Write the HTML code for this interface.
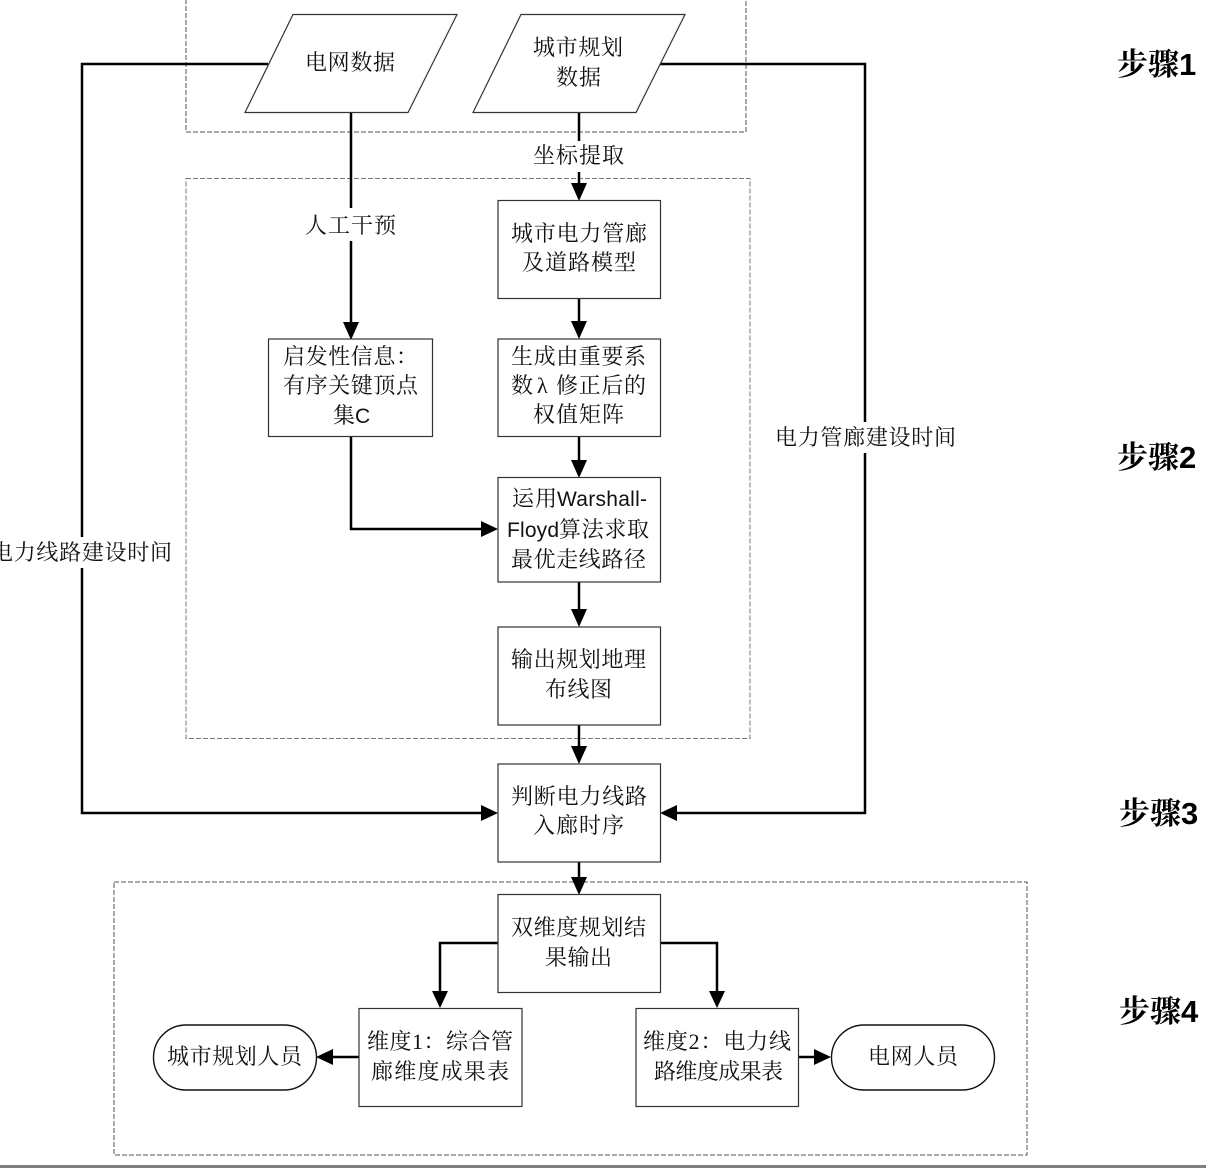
<!DOCTYPE html>
<html lang="zh">
<head>
<meta charset="utf-8">
<style>
html,body{margin:0;padding:0;background:#fff;width:1206px;height:1168px;overflow:hidden}
svg{display:block}
text{font-family:"Liberation Serif","Noto Serif CJK SC",serif;font-size:22px;fill:#111}
.l{font-family:"Liberation Sans","Noto Serif CJK SC",sans-serif;font-size:21px}
.s{font-family:"Liberation Sans","Noto Serif CJK SC",serif;font-size:31px;font-weight:700;fill:#000}
.b{fill:#fff;stroke:#333;stroke-width:1.2}
.d{fill:none;stroke:#555;stroke-width:1;stroke-dasharray:5 2}
.c{fill:none;stroke:#000;stroke-width:2.5}
</style>
</head>
<body>
<svg width="1206" height="1168" viewBox="0 0 1206 1168" xmlns="http://www.w3.org/2000/svg">
<rect x="186" y="-20" width="560" height="152" class="d"/>
<rect x="186" y="178.500" width="564" height="560" class="d" style="stroke:#777"/>
<rect x="114" y="882" width="913" height="273" class="d"/>
<rect x="0" y="1165" width="1206" height="3" fill="#808080"/>

<path class="c" d="M268 64H82V813H482"/>
<path class="c" d="M660 64H865V813H676"/>
<path class="c" d="M351 112V324"/>
<path class="c" d="M579 112V184"/>
<path class="c" d="M579 298V322"/>
<path class="c" d="M579 436V461"/>
<path class="c" d="M579 582V610"/>
<path class="c" d="M579 725V748"/>
<path class="c" d="M579 862V878"/>
<path class="c" d="M351 436V529H482"/>
<path class="c" d="M498 943H440V992"/>
<path class="c" d="M660 943H717V992"/>
<path class="c" d="M359 1057H332"/>
<path class="c" d="M798 1057H815"/>

<g fill="#000">
<polygon points="571,183 587,183 579,201"/>
<polygon points="343,322 359,322 351,340"/>
<polygon points="571,321 587,321 579,339"/>
<polygon points="571,460 587,460 579,478"/>
<polygon points="571,609 587,609 579,627"/>
<polygon points="571,746 587,746 579,764"/>
<polygon points="571,877 587,877 579,895"/>
<polygon points="432,991 448,991 440,1008"/>
<polygon points="709,991 725,991 717,1008"/>
<polygon points="481,521 481,537 498,529"/>
<polygon points="481,805 481,821 498,813"/>
<polygon points="677,805 677,821 660,813"/>
<polygon points="333,1049 333,1065 316,1057"/>
<polygon points="814,1049 814,1065 831,1057"/>
</g>

<polygon class="b" points="293,14.500 457,14.500 408,112.500 245,112.500"/>
<polygon class="b" points="521,14.500 685,14.500 636,112.500 473,112.500"/>
<rect class="b" x="498" y="200.500" width="162.500" height="98"/>
<rect class="b" x="268.500" y="339" width="164" height="97.500"/>
<rect class="b" x="498" y="339" width="162.500" height="97.500"/>
<rect class="b" x="498" y="477.500" width="162.500" height="104.500"/>
<rect class="b" x="498" y="627" width="162.500" height="98"/>
<rect class="b" x="498" y="764" width="162.500" height="98"/>
<rect class="b" x="498" y="894.500" width="162.500" height="98"/>
<rect class="b" x="359" y="1008.500" width="163" height="98"/>
<rect class="b" x="636" y="1008.500" width="162.500" height="98"/>
<rect x="153.500" y="1025" width="163" height="65" rx="32.500" fill="#fff" stroke="#111" stroke-width="1.4"/>
<rect x="831.500" y="1025" width="163" height="65" rx="32.500" fill="#fff" stroke="#111" stroke-width="1.4"/>

<g fill="#fff">
<rect x="530" y="141" width="98" height="31"/>
<rect x="302" y="208" width="98" height="33"/>
<rect x="-10" y="537" width="185" height="31"/>
<rect x="772" y="422" width="187" height="31"/>
</g>

<text x="305" y="70" textLength="90">电网数据</text>
<text x="533" y="55" textLength="90">城市规划</text>
<text x="556" y="85" textLength="45">数据</text>
<text x="533" y="163" textLength="91">坐标提取</text>
<text x="305" y="233" textLength="91">人工干预</text>
<text x="511" y="241" textLength="136">城市电力管廊</text>
<text x="522" y="270" textLength="114">及道路模型</text>
<text x="283" y="364" textLength="135">启发性信息：</text>
<text x="283" y="393" textLength="135">有序关键顶点</text>
<text x="333" y="423" textLength="22">集</text>
<text class="l" x="355" y="423">C</text>
<text x="511" y="364" textLength="135">生成由重要系</text>
<text x="511" y="393" textLength="22">数</text>
<text x="537" y="393" font-size="18">λ</text>
<text x="556" y="393" textLength="90">修正后的</text>
<text x="533" y="422" textLength="91">权值矩阵</text>
<text x="512" y="506" textLength="45">运用</text>
<text class="l" x="557" y="506" textLength="90">Warshall-</text>
<text class="l" x="507" y="537" textLength="52">Floyd</text>
<text x="559" y="537" textLength="90">算法求取</text>
<text x="511" y="567" textLength="135">最优走线路径</text>
<text x="511" y="667" textLength="135">输出规划地理</text>
<text x="545" y="697" textLength="67">布线图</text>
<text x="511" y="804" textLength="136">判断电力线路</text>
<text x="533" y="833" textLength="91">入廊时序</text>
<text x="511" y="935" textLength="135">双维度规划结</text>
<text x="545" y="965" textLength="67">果输出</text>
<text x="367" y="1049" textLength="146">维度1：综合管</text>
<text x="371" y="1079" textLength="138">廊维度成果表</text>
<text x="643" y="1049" textLength="148">维度2：电力线</text>
<text x="654" y="1079" textLength="129">路维度成果表</text>
<text x="167" y="1064" textLength="135">城市规划人员</text>
<text x="868" y="1064" textLength="90">电网人员</text>
<text x="-9" y="560" textLength="181">电力线路建设时间</text>
<text x="775" y="445" textLength="181">电力管廊建设时间</text>

<text class="s" x="1117" y="75">步骤1</text>
<text class="s" x="1117" y="468">步骤2</text>
<text class="s" x="1119" y="824">步骤3</text>
<text class="s" x="1119" y="1022">步骤4</text>
</svg>
</body>
</html>
